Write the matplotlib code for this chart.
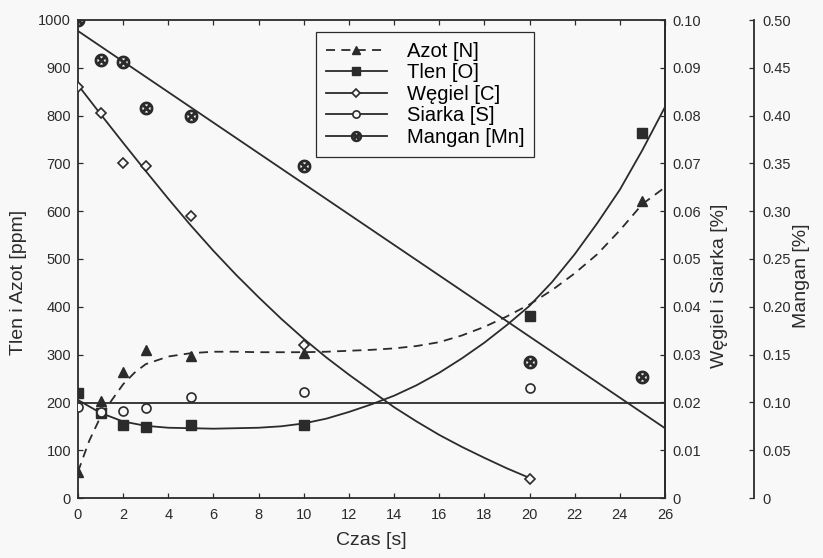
import matplotlib
matplotlib.use("Agg")
import matplotlib.pyplot as plt
import numpy as np

plt.rcParams['font.family'] = ['Liberation Sans', 'DejaVu Sans']

# czas pomiaru [s]
czas = [0, 1, 2, 3, 5, 10, 20, 25]

# azot i tlen [ppm]
azot_t = [0, 1, 2, 3, 5, 10, 25]
azot = [55, 203, 264, 310, 297, 303, 621]
tlen = [220, 178, 153, 148, 153, 153, 381, 763]

# wegiel i siarka [%]
wegiel_t = [0, 1, 2, 3, 5, 10, 20]
wegiel = [0.086, 0.0805, 0.070, 0.0695, 0.059, 0.032, 0.004]
siarka_t = [0, 1, 2, 3, 5, 10, 20]
siarka = [0.019, 0.018, 0.0182, 0.0188, 0.0211, 0.0222, 0.023]

# mangan [%]
mangan = [0.500, 0.458, 0.456, 0.408, 0.400, 0.347, 0.142, 0.1265]

# krzywe dopasowania
azot_fit_t = [0, 0.5, 1, 1.5, 2, 2.5, 3, 4, 5, 6, 7, 8, 9, 10, 11, 12, 13,
              14, 15, 16, 17, 18, 19, 20, 21, 22, 23, 24, 25, 26]
azot_fit = [55, 120, 170, 205, 238, 262, 280, 296, 303, 306, 306, 305, 305,
            305, 306, 308, 310, 313, 318, 326, 340, 358, 380, 405, 435, 470,
            510, 560, 615, 650]
tlen_fit_t = list(range(0, 27))
tlen_fit = [205, 178, 160, 151, 147, 146, 145, 146, 147, 150, 156, 166, 180,
            196, 214, 236, 262, 292, 325, 362, 402, 452, 510, 575, 645, 728,
            818]
wegiel_fit_t = list(range(0, 21))
wegiel_fit = [0.0864, 0.0803, 0.0743, 0.0684, 0.0626, 0.0570, 0.0517,
              0.0467, 0.0420, 0.0375, 0.0333, 0.0294, 0.0258, 0.0224, 0.0190,
              0.0160, 0.0132, 0.0107, 0.0084, 0.0062, 0.0042]
siarka_fit_t = [0, 26]
siarka_fit = [0.0199, 0.0199]
mangan_fit_t = [0, 26]
mangan_fit = [0.4885, 0.073]

kolor = '#2b2b2b'
tlo = '#f8f8f8'

fig = plt.figure(figsize=(8.23, 5.58), dpi=100, facecolor=tlo)
ax = fig.add_axes([78 / 823, 1 - 498 / 558, 587 / 823, 478 / 558])
ax.set_facecolor(tlo)
ax2 = ax.twinx()
ax3 = ax.twinx()
ax3.spines['right'].set_position(('axes', 1.1516))
for s in ['top', 'left', 'bottom']:
    ax3.spines[s].set_visible(False)
    ax2.spines[s].set_visible(False)

lw = 1.3

# linie trendu
ax.plot(azot_fit_t, azot_fit, color=kolor, lw=lw, ls=(0, (5, 3.5)))
ax.plot(tlen_fit_t, tlen_fit, color=kolor, lw=lw)
ax2.plot(wegiel_fit_t, wegiel_fit, color=kolor, lw=lw)
ax2.plot(siarka_fit_t, siarka_fit, color=kolor, lw=lw)
ax3.plot(mangan_fit_t, mangan_fit, color=kolor, lw=lw)

# punkty pomiarowe
h1, = ax.plot(azot_t, azot, ls='none', marker='^', ms=7, color=kolor)
h2, = ax.plot(czas, tlen, ls='none', marker='s', ms=6.5, color=kolor)
h3, = ax2.plot(wegiel_t, wegiel, ls='none', marker='D', ms=5.5, mfc=tlo,
               mec=kolor, mew=1.2, color=kolor)
h4, = ax2.plot(siarka_t, siarka, ls='none', marker='o', ms=6.5, mfc=tlo,
               mec=kolor, mew=1.2, color=kolor)
h5, = ax3.plot(czas, mangan, ls='none', marker=r'$\otimes$', ms=9,
               color=kolor)

ax.set_xlim(0, 26)
ax.set_ylim(0, 1000)
ax2.set_ylim(0, 0.1)
ax3.set_ylim(0, 0.5)
ax.set_xticks(np.arange(0, 27, 2))
ax.set_yticks(np.arange(0, 1001, 100))
ax2.set_yticks(np.arange(0, 0.101, 0.01))
ax2.set_yticklabels(['0'] + ['%.2f' % v for v in np.arange(0.01, 0.101, 0.01)])
ax3.set_yticks(np.arange(0, 0.501, 0.05))
ax3.set_yticklabels(['0'] + ['%.2f' % v for v in np.arange(0.05, 0.501, 0.05)])

ax.tick_params(direction='in', top=True, length=3.5, width=0.9,
               labelsize=10.5, colors=kolor, pad=5)
ax.tick_params(axis='x', pad=7)
ax2.tick_params(direction='in', length=3.5, width=0.9, labelsize=10.5,
                colors=kolor, pad=5)
ax3.tick_params(direction='in', length=3.5, width=0.9, labelsize=10.5,
                colors=kolor, pad=6)

for a in (ax, ax2, ax3):
    for s in a.spines.values():
        s.set_linewidth(1.3)
        s.set_color(kolor)

ax.set_xlabel('Czas [s]', fontsize=14, color=kolor)
ax.xaxis.set_label_coords(0.5, -0.072)
ax.set_ylabel('Tlen i Azot [ppm]', fontsize=14, color=kolor)
ax.yaxis.set_label_coords(-0.087, 0.452)
ax2.set_ylabel('Węgiel i Siarka [%]', fontsize=14, color=kolor)
ax2.yaxis.set_label_coords(1.078, 0.443)
ax3.set_ylabel('Mangan [%]', fontsize=14, color=kolor)
ax3.yaxis.set_label_coords(1.218, 0.465)

leg = ax.legend([h1, h2, h3, h4, h5],
                ['Azot [N]', 'Tlen [O]', 'Węgiel [C]', 'Siarka [S]',
                 'Mangan [Mn]'],
                loc='upper left', bbox_to_anchor=(0.4055, 0.975),
                borderaxespad=0, fancybox=False, edgecolor=kolor,
                facecolor=tlo, framealpha=1, fontsize=14.5, markerscale=0.8,
                labelspacing=0.12, handlelength=3.0, handletextpad=1.0,
                borderpad=0.5)
leg.get_frame().set_linewidth(0.9)
# linie w legendzie jak na wykresie
for lh, ls in zip(leg.legend_handles, [(0, (5, 3.5)), '-', '-', '-', '-']):
    lh.set_linestyle(ls)
    lh.set_linewidth(lw)
leg.set_zorder(5)

fig.savefig('out.png', dpi=100, facecolor=tlo)
